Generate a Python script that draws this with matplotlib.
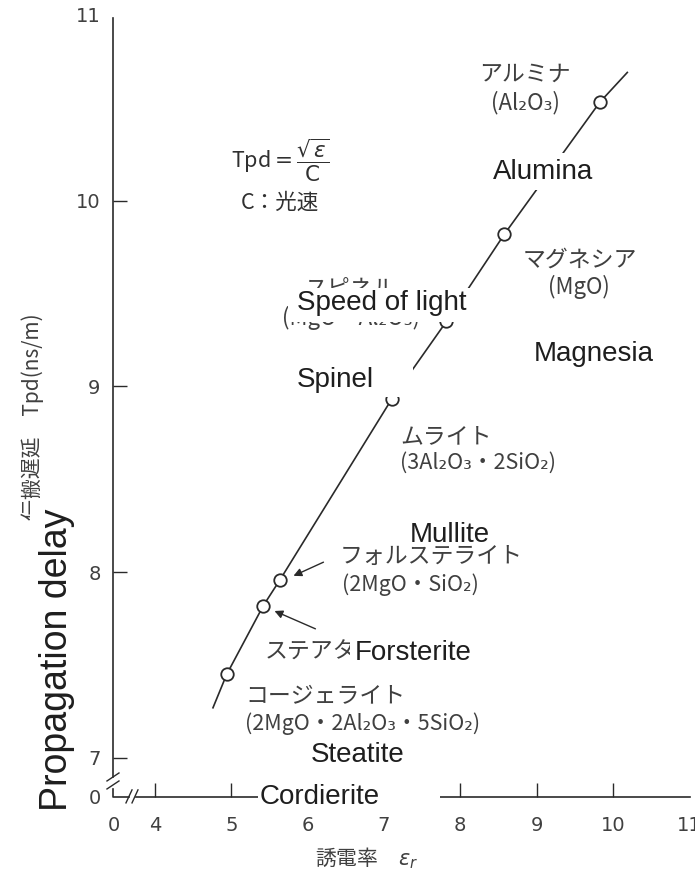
import matplotlib
matplotlib.use('Agg')
import matplotlib.pyplot as plt
from matplotlib.patches import Rectangle

# relative permittivity vs. propagation delay of substrate ceramics
materials = ['Cordierite', 'Steatite', 'Forsterite', 'Mullite', 'Spinel', 'Magnesia', 'Alumina']
eps_r = [4.94, 5.42, 5.64, 7.10, 7.82, 8.58, 9.83]
tpd = [7.45, 7.82, 7.96, 8.93, 9.35, 9.82, 10.53]

# Tpd = sqrt(eps)/c curve, traced through the measured points
curve_eps = [4.76] + eps_r + [10.19]
curve_tpd = [7.27] + tpd + [10.69]

xticks = [3.46, 4, 5, 6, 7, 8, 9, 10, 11]
xticklabels = ['0', '4', '5', '6', '7', '8', '9', '10', '11']
yticks = [6.79, 7, 8, 9, 10, 11]
yticklabels = ['0', '7', '8', '9', '10', '11']

jp_font = ['Noto Sans CJK JP', 'DejaVu Sans']
en_font = ['Liberation Sans', 'DejaVu Sans']
ink = '#2a2a2a'
gray = '#404040'

fig = plt.figure(figsize=(6.95, 8.72), dpi=100)
ax = fig.add_axes([0, 0, 1, 1])
ax.set_xlim(1.969, 11.077)
ax.set_ylim(6.386, 11.080)
ax.patch.set_visible(False)

# broken axes
for s in ['top', 'right']:
    ax.spines[s].set_visible(False)
ax.spines['left'].set_position(('data', 3.45))
ax.spines['left'].set_bounds(6.90, 10.983)
ax.spines['bottom'].set_position(('data', 6.79))
ax.spines['bottom'].set_bounds(3.751, 11.012)
for s in ['left', 'bottom']:
    ax.spines[s].set_color(ink)
    ax.spines[s].set_linewidth(1.2)

ax.plot([3.45, 3.45, 3.659], [6.835, 6.79, 6.79], color=ink, lw=1.2)
ax.plot([3.371, 3.528], [6.876, 6.919], color=ink, lw=1.0)
ax.plot([3.371, 3.528], [6.833, 6.876], color=ink, lw=1.0)
ax.plot([3.620, 3.699], [6.758, 6.828], color=ink, lw=1.0)
ax.plot([3.699, 3.777], [6.758, 6.828], color=ink, lw=1.0)

ax.set_xticks(xticks)
ax.set_xticklabels(xticklabels)
ax.set_yticks(yticks)
ax.set_yticklabels(yticklabels)
ax.tick_params(direction='in', length=10, width=1.0, color=ink,
               labelsize=14, labelcolor=gray)
ax.tick_params(axis='x', pad=14)
ax.tick_params(axis='y', pad=9)
for t in (ax.xaxis.get_major_ticks()[0], ax.xaxis.get_major_ticks()[-1],
          ax.yaxis.get_major_ticks()[0], ax.yaxis.get_major_ticks()[-1]):
    t.tick1line.set_visible(False)

# curve and measured points
ax.plot(curve_eps, curve_tpd, color=ink, lw=1.2, zorder=2)
ax.plot(eps_r, tpd, 'o', mfc='white', mec=ink, ms=9, mew=1.3, zorder=3)

# Japanese captions of the materials
jp_texts = [
    ('アルミナ', 8.85, 10.68, 'center', 16.5),
    ('(Al₂O₃)', 8.85, 10.53, 'center', 16),
    ('マグネシア', 9.57, 9.68, 'center', 16.5),
    ('(MgO)', 9.55, 9.535, 'center', 16),
    ('スピネル', 6.556, 9.524, 'center', 16.5),
    ('(MgO・Al₂O₃)', 6.569, 9.368, 'center', 16),
    ('ムライト', 7.21, 8.728, 'left', 16.5),
    ('(3Al₂O₃・2SiO₂)', 7.21, 8.588, 'left', 15.5),
    ('フォルステライト', 6.425, 8.087, 'left', 16.5),
    ('(2MgO・SiO₂)', 6.45, 7.931, 'left', 15.5),
    ('ステアタイト', 5.44, 7.57, 'left', 16.5),
    ('コージェライト', 5.18, 7.328, 'left', 16.5),
    ('(2MgO・2Al₂O₃・5SiO₂)', 5.18, 7.183, 'left', 15.5),
]
for s, x, y, ha, size in jp_texts:
    ax.text(x, y, s, ha=ha, va='center', size=size, color=gray,
            family=jp_font, zorder=1)

ax.annotate('', xy=(5.782, 7.974), xytext=(6.241, 8.06),
            arrowprops=dict(arrowstyle='-|>', color=ink, lw=1.0, mutation_scale=12))
ax.annotate('', xy=(5.533, 7.797), xytext=(6.136, 7.689),
            arrowprops=dict(arrowstyle='-|>', color=ink, lw=1.0, mutation_scale=12))

ax.text(5.64, 10.218, r'Tpd$=\dfrac{\sqrt{\varepsilon}}{\mathrm{C}}$', ha='center',
        va='center', size=15.5, color='#303030', family=jp_font)
ax.text(5.64, 9.987, 'C：光速', ha='center', va='center', size=15.5,
        color='#303030', family=jp_font)

ax.text(2.401, 8.28, '伝搬遅延　Tpd(ns/m)', rotation=90, ha='center', va='bottom',
        size=15, color=gray, family=jp_font)
ax.text(6.78, 6.462, '誘電率　$\\varepsilon_r$', ha='center', va='center',
        size=15, color=gray, family=jp_font)

# English labels on white patches
en_labels = ['Alumina', 'Magnesia', 'Speed of light', 'Spinel',
             'Mullite', 'Forsterite', 'Steatite', 'Cordierite']
en_xy = [(9.085, 10.154), (9.75, 9.174), (6.975, 9.449), (6.359, 9.034),
         (7.866, 8.2), (7.381, 7.565), (6.661, 7.016), (6.163, 6.79)]
en_box = [(8.364, 9.806, 10.057, 10.256), (8.915, 10.619, 9.078, 9.260),
          (5.743, 8.128, 9.347, 9.530), (5.809, 7.381, 8.943, 9.115),
          (7.32, 8.41, 8.15, 8.27), (6.556, 9.111, 7.474, 7.651),
          (5.966, 7.342, 6.925, 7.097), (5.35, 7.735, 6.709, 6.865)]
for s, (x, y), (x0, x1, y0, y1) in zip(en_labels, en_xy, en_box):
    ax.add_patch(Rectangle((x0, y0), x1 - x0, y1 - y0, facecolor='white',
                           edgecolor='none', zorder=4))
    ax.text(x, y, s, ha='center', va='center', size=20, color='#1e1e1e',
            family=en_font, zorder=5)

ax.add_patch(Rectangle((2.362, 6.612), 0.603, 1.787, facecolor='white',
                       edgecolor='none', zorder=4))
ax.text(2.716, 7.527, 'Propagation delay', rotation=90, ha='center', va='center',
        size=27, color='#1e1e1e', family=en_font, zorder=5)

fig.savefig('out.png', dpi=100)
